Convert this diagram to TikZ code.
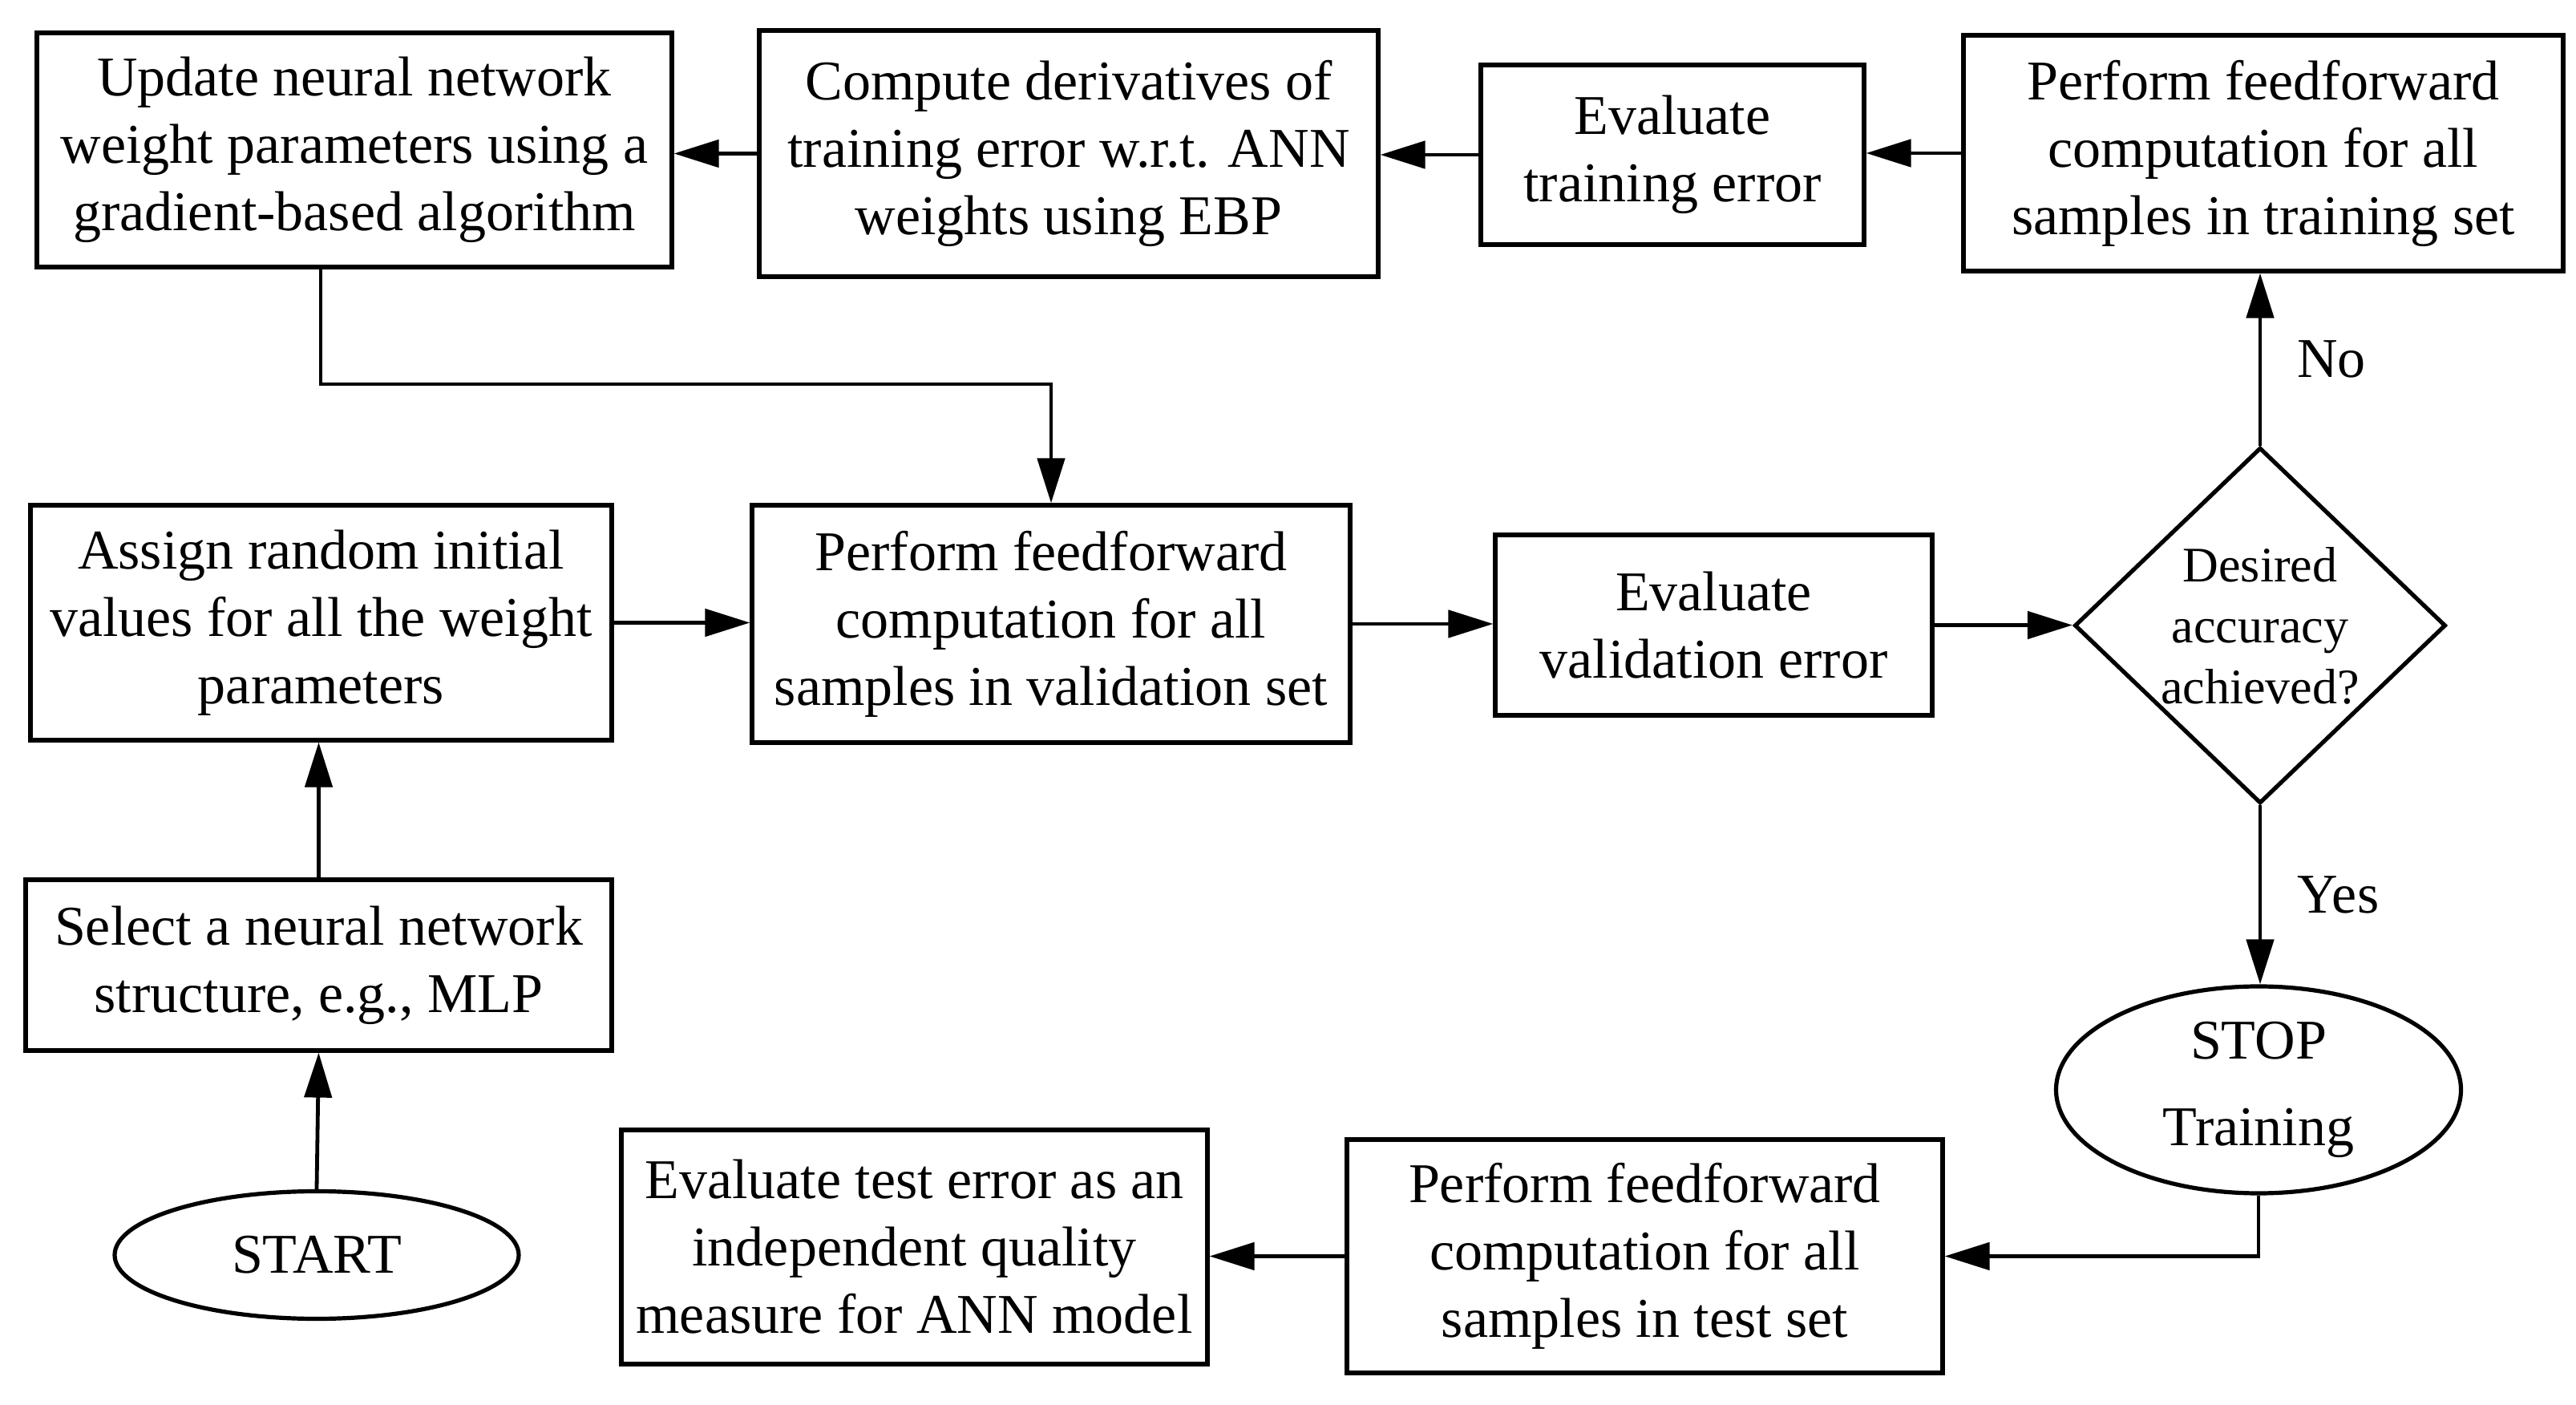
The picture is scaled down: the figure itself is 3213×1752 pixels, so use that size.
\documentclass[tikz,border=0pt]{standalone}
\usepackage{fontspec}
\setmainfont{Liberation Serif}
\usetikzlibrary{shapes.geometric,arrows.meta}
\begin{document}
\begin{tikzpicture}[x=0.25pt,y=-0.25pt,
  every node/.style={inner sep=0pt, align=center, font=\fontsize{17.5}{21}\selectfont},
  box/.style={draw, line width=1.3pt, rectangle},
  oval/.style={draw, line width=1.3pt, ellipse},
  decision/.style={draw, line width=1.3pt, diamond, font=\fontsize{15.5}{19}\selectfont},
  arr/.style={line width=1.2pt, -{Triangle[length=14pt,width=8.5pt]}},
  lbl/.style={font=\fontsize{17.5}{21}\selectfont}]
\useasboundingbox (0,0) rectangle (3213,1752);

\node[box, minimum width=198pt, minimum height=73pt] (upd) at (442,187)
  {Update neural network\\weight parameters using a\\gradient-based algorithm};
\node[box, minimum width=193pt, minimum height=76.75pt] (cmp) at (1333,191.5)
  {Compute derivatives of\\training error w.r.t. ANN\\weights using EBP};
\node[box, minimum width=119.5pt, minimum height=56pt] (evt) at (2086,193)
  {Evaluate\\training error};
\node[box, minimum width=187pt, minimum height=73.5pt] (pft) at (2823,191)
  {Perform feedforward\\computation for all\\samples in training set};
\node[box, minimum width=181.25pt, minimum height=73.25pt] (asg) at (400.5,776.5)
  {Assign random initial\\values for all the weight\\parameters};
\node[box, minimum width=186.5pt, minimum height=74pt] (pfv) at (1311,778)
  {Perform feedforward\\computation for all\\samples in validation set};
\node[box, minimum width=136.25pt, minimum height=56.25pt] (evv) at (2137.5,779.5)
  {Evaluate\\validation error};
\node[decision, minimum width=115.75pt, minimum height=109.75pt] (dia) at (2819,780)
  {Desired\\accuracy\\achieved?};
\node[box, minimum width=182.75pt, minimum height=53.25pt] (sel) at (397.5,1203.5)
  {Select a neural network\\structure, e.g., MLP};
\node[oval, minimum width=126pt, minimum height=39.75pt] (start) at (395,1565) {START};
\node[oval, minimum width=126.25pt, minimum height=64.5pt] (stop) at (2817,1359)
  {STOP\\[6pt]Training};
\node[box, minimum width=182.75pt, minimum height=73pt] (evte) at (1140.5,1555)
  {Evaluate test error as an\\independent quality\\measure for ANN model};
\node[box, minimum width=185.75pt, minimum height=72.75pt] (pfte) at (2051.5,1566.5)
  {Perform feedforward\\computation for all\\samples in test set};

\coordinate (j1) at (400,479);

\draw[arr] (start.north) -- (sel.south);
\draw[arr] (sel.north) -- (sel.north |- asg.south);
\draw[arr] (asg.east) -- (asg.east -| pfv.west);
\draw[arr] (pfv.east) -- (pfv.east -| evv.west);
\draw[arr] (evv.east) -- (evv.east -| dia.west);
\draw[arr] (dia.north) -- (dia.north |- pft.south) node[lbl, pos=0.5, right=11pt] {No};
\draw[arr] (pft.west) -- (pft.west -| evt.east);
\draw[arr] (evt.west) -- (evt.west -| cmp.east);
\draw[arr] (cmp.west) -- (cmp.west -| upd.east);
\draw[arr] (upd.south -| j1) -- (j1) -| (pfv.north);
\draw[arr] (dia.south) -- (dia.south |- stop.north) node[lbl, pos=0.5, right=11pt] {Yes};
\draw[arr] (stop.south) |- (pfte.east);
\draw[arr] (pfte.west) -- (pfte.west -| evte.east);
\end{tikzpicture}
\end{document}
